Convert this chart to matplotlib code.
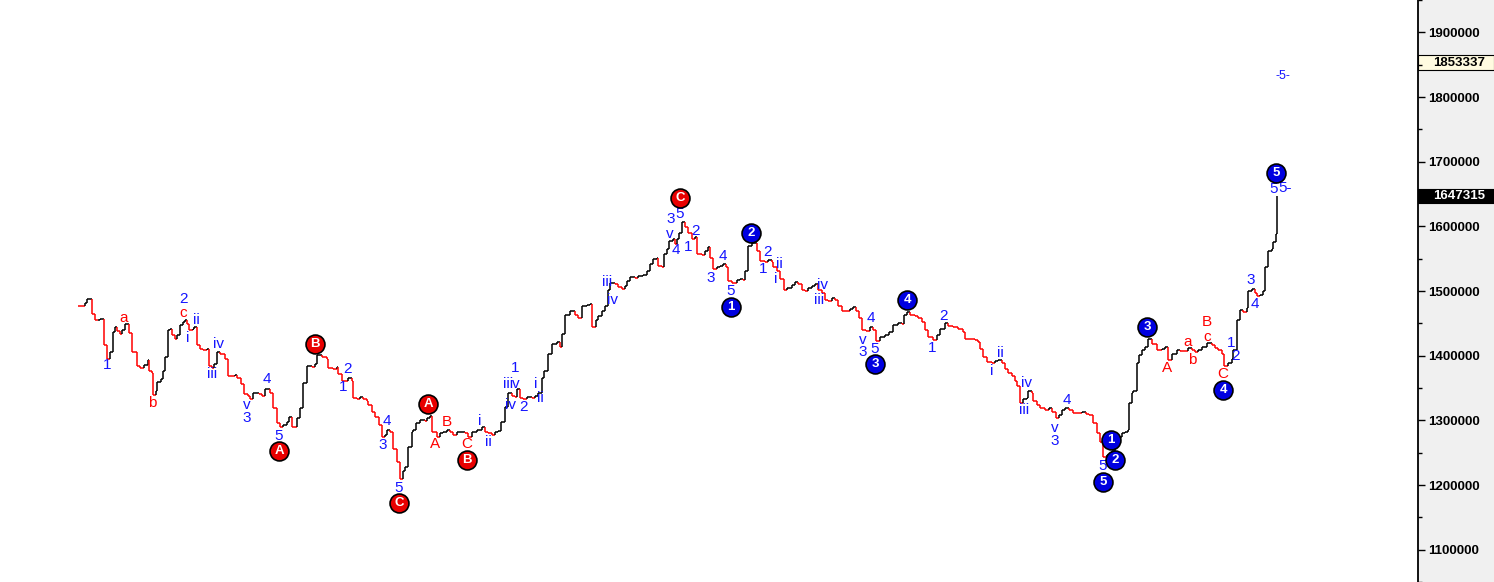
import numpy as np
import matplotlib.pyplot as plt
import matplotlib.transforms as mtransforms
from matplotlib.collections import LineCollection
from matplotlib.patches import Rectangle
from matplotlib.ticker import FuncFormatter

plt.rcParams['font.family'] = ['Liberation Sans', 'DejaVu Sans']

# bar positions (time axis) and close price in thousands
bar_x = [78, 85, 87, 92, 95, 98, 100, 104, 107, 110, 113, 115, 117, 120, 122, 125, 129, 132, 137, 140,
         144, 148, 149, 152, 153, 156, 157, 161, 163, 165, 168, 170, 172, 175, 177, 180, 183, 185, 187, 189,
         193, 194, 197, 200, 203, 207, 209, 212, 214, 217, 220, 225, 228, 235, 237, 241, 244, 248, 250, 253,
         259, 262, 265, 270, 273, 277, 280, 283, 287, 289, 292, 297, 300, 303, 307, 312, 315, 317, 322, 327,
         328, 333, 337, 338, 342, 348, 352, 353, 357, 360, 363, 367, 368, 372, 375, 379, 382, 385, 387, 390,
         393, 397, 400, 403, 405, 408, 412, 413, 416, 420, 425, 427, 430, 432, 437, 440, 443, 447, 450, 453,
         457, 465, 468, 472, 477, 482, 485, 488, 492, 495, 498, 501, 505, 508, 512, 515, 517, 520, 523, 527,
         532, 535, 538, 542, 544, 548, 552, 557, 560, 562, 565, 570, 575, 578, 582, 587, 590, 592, 596, 598,
         602, 605, 608, 610, 615, 618, 622, 625, 627, 630, 635, 638, 643, 647, 650, 653, 657, 658, 662, 664,
         667, 669, 673, 675, 677, 679, 682, 685, 688, 692, 695, 697, 702, 705, 708, 710, 713, 717, 720, 723,
         726, 728, 732, 737, 740, 743, 745, 748, 752, 757, 760, 765, 768, 772, 773, 777, 780, 784, 787, 792,
         795, 798, 802, 805, 808, 812, 815, 818, 822, 825, 828, 832, 835, 838, 842, 850, 853, 856, 859, 862,
         866, 870, 873, 876, 880, 885, 889, 893, 898, 902, 904, 907, 910, 915, 918, 922, 925, 928, 933, 937,
         940, 945, 948, 953, 958, 963, 965, 975, 978, 980, 983, 987, 992, 995, 998, 1002, 1005, 1008, 1012, 1015,
         1017, 1020, 1023, 1027, 1028, 1032, 1033, 1037, 1040, 1045, 1049, 1052, 1056, 1059, 1062, 1065, 1069, 1073, 1082, 1086,
         1089, 1093, 1097, 1100, 1103, 1107, 1112, 1115, 1118, 1122, 1125, 1128, 1129, 1132, 1133, 1137, 1139, 1142, 1145, 1148,
         1152, 1157, 1162, 1165, 1168, 1172, 1177, 1180, 1188, 1192, 1195, 1198, 1202, 1207, 1212, 1215, 1218, 1222, 1224, 1228,
         1232, 1233, 1237, 1240, 1243, 1247, 1248, 1252, 1255, 1257, 1260, 1263, 1265, 1268, 1272, 1273, 1276, 1277]

price_k = [1477.0, 1481.6, 1487.6, 1465.0, 1454.4, 1455.9, 1457.4, 1416.6, 1395.5, 1406.0,
           1436.2, 1443.8, 1437.8, 1433.2, 1439.3, 1448.3, 1434.7, 1406.0, 1383.4, 1380.4,
           1384.9, 1394.0, 1375.8, 1372.8, 1339.6, 1345.6, 1359.2, 1363.7, 1375.8, 1398.5,
           1439.3, 1440.8, 1431.7, 1425.7, 1431.7, 1446.8, 1451.3, 1455.9, 1448.3, 1439.3,
           1440.8, 1443.8, 1416.6, 1410.6, 1409.1, 1410.6, 1383.4, 1380.4, 1386.4, 1406.0,
           1403.0, 1395.5, 1368.3, 1369.8, 1365.3, 1356.2, 1341.1, 1338.1, 1333.5, 1342.6,
           1341.1, 1338.1, 1348.6, 1342.6, 1318.4, 1295.8, 1289.7, 1292.7, 1297.3, 1304.8,
           1289.7, 1303.3, 1318.4, 1357.7, 1383.4, 1381.9, 1386.4, 1401.5, 1398.5, 1395.5,
           1380.4, 1378.8, 1381.9, 1371.3, 1360.7, 1365.3, 1360.7, 1335.0, 1333.5, 1336.5,
           1333.5, 1330.5, 1323.0, 1312.4, 1304.8, 1292.7, 1274.6, 1277.6, 1285.2, 1282.2,
           1255.0, 1235.3, 1209.7, 1221.7, 1227.8, 1258.0, 1282.2, 1285.2, 1295.8, 1300.3,
           1298.8, 1303.3, 1306.3, 1282.2, 1274.6, 1280.7, 1282.2, 1285.2, 1282.2, 1277.6,
           1282.2, 1280.7, 1274.6, 1282.2, 1285.2, 1289.7, 1282.2, 1280.7, 1277.6, 1282.2,
           1283.7, 1297.3, 1319.9, 1342.6, 1338.1, 1336.5, 1348.6, 1335.0, 1333.5, 1336.5,
           1335.0, 1338.1, 1342.6, 1365.3, 1375.8, 1403.0, 1418.1, 1421.1, 1413.6, 1433.2,
           1463.4, 1469.5, 1463.4, 1458.9, 1477.0, 1478.5, 1480.1, 1443.8, 1454.4, 1461.9,
           1469.5, 1477.0, 1501.2, 1511.8, 1510.3, 1505.7, 1502.7, 1507.2, 1514.8, 1522.3,
           1520.8, 1523.9, 1525.4, 1531.4, 1542.0, 1549.5, 1551.1, 1539.0, 1537.5, 1557.1,
           1564.6, 1576.7, 1579.8, 1572.2, 1579.8, 1590.3, 1606.9, 1599.4, 1590.3, 1579.8,
           1582.8, 1557.1, 1555.6, 1561.6, 1567.7, 1551.1, 1534.4, 1537.5, 1539.0, 1542.0,
           1537.5, 1514.8, 1511.8, 1516.3, 1519.3, 1516.3, 1531.4, 1569.2, 1573.7, 1561.6,
           1546.5, 1545.0, 1548.0, 1545.0, 1537.5, 1531.4, 1519.3, 1501.2, 1504.2, 1508.8,
           1513.3, 1510.3, 1501.2, 1499.7, 1504.2, 1507.2, 1510.3, 1501.2, 1496.7, 1486.1,
           1484.6, 1489.1, 1486.1, 1477.0, 1469.5, 1472.5, 1475.5, 1469.5, 1458.9, 1439.3,
           1437.8, 1443.8, 1439.3, 1422.7, 1428.7, 1431.7, 1436.2, 1446.8, 1449.8, 1448.3,
           1463.4, 1468.0, 1463.4, 1461.9, 1458.9, 1451.3, 1439.3, 1428.7, 1424.2, 1431.7,
           1440.8, 1449.8, 1445.3, 1443.8, 1440.8, 1436.2, 1425.7, 1424.2, 1421.1, 1410.6,
           1398.5, 1390.9, 1387.9, 1392.4, 1394.0, 1387.9, 1378.8, 1372.8, 1368.3, 1360.7,
           1353.2, 1327.5, 1333.5, 1335.0, 1345.6, 1342.6, 1330.5, 1323.0, 1318.4, 1315.4,
           1318.4, 1312.4, 1303.3, 1307.8, 1315.4, 1318.4, 1315.4, 1310.9, 1312.4, 1309.3,
           1307.8, 1295.8, 1280.7, 1267.1, 1242.9, 1245.9, 1252.0, 1262.5, 1274.6, 1280.7,
           1282.2, 1285.2, 1327.5, 1342.6, 1345.6, 1387.9, 1401.5, 1409.1, 1413.6, 1425.7,
           1418.1, 1409.1, 1410.6, 1413.6, 1394.0, 1403.0, 1409.1, 1407.5, 1412.1, 1409.1,
           1406.0, 1409.1, 1413.6, 1419.6, 1416.6, 1412.1, 1409.1, 1403.0, 1383.4, 1387.9,
           1395.5, 1409.1, 1454.4, 1471.0, 1468.0, 1474.0, 1499.7, 1502.7, 1496.7, 1492.1,
           1493.7, 1499.7, 1537.5, 1561.6, 1564.6, 1575.2, 1588.8, 1647.315]

# wave labels: (text, bar, price in thousands)
blue_labels = [("1", 107, 1384.9), ("2", 183, 1487.6), ("ii", 196, 1454.4), ("i", 188, 1427.2),
               ("iv", 219, 1418.1), ("iii", 212, 1371.3), ("v", 247, 1323.0), ("3", 247, 1303.3),
               ("4", 267, 1363.7), ("5", 279, 1276.1), ("2", 347, 1378.8), ("1", 343, 1351.7),
               ("4", 387, 1298.8), ("3", 383, 1262.5), ("5", 399, 1196.1), ("i", 480, 1298.8),
               ("ii", 488, 1267.1), ("1", 515, 1380.4), ("iii", 508, 1356.2), ("v", 516, 1356.2),
               ("iv", 511, 1323.0), ("2", 523, 1319.9), ("i", 536, 1356.2), ("ii", 540, 1335.0),
               ("iii", 607, 1513.3), ("iv", 612, 1486.1), ("5", 680, 1619.0), ("3", 671, 1611.5),
               ("v", 670, 1588.8), ("4", 676, 1563.1), ("2", 695, 1593.3), ("1", 688, 1567.7),
               ("4", 723, 1554.1), ("3", 711, 1520.8), ("5", 731, 1499.7), ("2", 767, 1560.1),
               ("1", 763, 1534.4), ("ii", 779, 1542.0), ("i", 776, 1519.3), ("iv", 823, 1508.8),
               ("iii", 819, 1486.1), ("4", 871, 1458.9), ("v", 863, 1424.2), ("3", 863, 1406.0),
               ("5", 875, 1410.6), ("2", 943, 1461.9), ("1", 932, 1412.1), ("ii", 1000, 1404.5),
               ("i", 992, 1375.8), ("iv", 1027, 1357.7), ("iii", 1024, 1315.4), ("4", 1067, 1332.0),
               ("v", 1055, 1288.2), ("3", 1055, 1268.6), ("5", 1103, 1229.3), ("1", 1231, 1419.6),
               ("2", 1236, 1400.0), ("3", 1251, 1516.3), ("4", 1255, 1480.1), ("5", 1274, 1658.3),
               ("5-", 1285, 1659.8)]
red_labels = [("a", 124, 1458.9), ("b", 152, 1327.5), ("c", 183, 1466.5), ("B", 447, 1297.3),
              ("A", 435, 1264.0), ("C", 467, 1264.0), ("A", 1167, 1380.4), ("a", 1188, 1421.1),
              ("b", 1192, 1394.0), ("B", 1207, 1451.3), ("c", 1207, 1428.7), ("C", 1223, 1371.3)]
red_circles = [("A", 279, 1252.0), ("B", 315, 1418.1), ("C", 399, 1171.9), ("A", 428, 1324.5),
               ("B", 467, 1238.4), ("C", 680, 1643.2)]
blue_circles = [("1", 731, 1475.5), ("2", 751, 1590.3), ("3", 875, 1386.4), ("4", 907, 1486.1),
                ("5", 1103, 1205.1), ("1", 1111, 1270.1), ("2", 1115, 1238.4), ("3", 1147, 1443.8),
                ("4", 1223, 1347.1), ("5", 1276, 1682.5)]
target_label = ("-5-", 1283, 1832.0)

last_price = 1647315
marker_price = 1853337

BLUE = '#1414ff'
RED = '#ff0000'

fig = plt.figure(figsize=(14.94, 5.82), dpi=100)
fig.patch.set_facecolor('#f0f0f0')
ax = fig.add_axes([0, 0, 1418 / 1494, 1])
ax.set_facecolor('white')
ax.set_xlim(0, 1418)
ax.set_ylim(1063140, 1942300)

# step line, red on down bars, black on up bars
x = np.array(bar_x, dtype=float)
p = np.array(price_k) * 1000
segs = [[(x[0], p[0]), (x[1], p[0])]]
cols = [RED]
for i in range(1, len(x)):
    c = 'black' if p[i] >= p[i - 1] else RED
    segs.append([(x[i], p[i - 1]), (x[i], p[i])])
    cols.append(c)
    if i + 1 < len(x):
        segs.append([(x[i], p[i]), (x[i + 1], p[i])])
        cols.append(c)
ax.add_collection(LineCollection(segs, colors=cols, linewidths=1.1, capstyle='butt'))

for t, bx, v in blue_labels:
    ax.text(bx, v * 1000, t, color=BLUE, fontsize=11, ha='center', va='center')
for t, bx, v in red_labels:
    ax.text(bx, v * 1000, t, color=RED, fontsize=11, ha='center', va='center')
for lst, fc in [(red_circles, '#e80000'), (blue_circles, '#0000e0')]:
    for t, bx, v in lst:
        ax.scatter(bx, v * 1000, s=185, color=fc, edgecolors='black', linewidths=1.2, zorder=5)
        ax.text(bx, v * 1000, t, color='white', fontsize=9.5, fontweight='bold',
                ha='center', va='center', zorder=6)
ax.text(target_label[1], target_label[2] * 1000, target_label[0], color=BLUE, fontsize=9,
        ha='center', va='center')

# right price axis
for s in ['top', 'left', 'bottom']:
    ax.spines[s].set_visible(False)
ax.spines['right'].set_linewidth(1.3)
ax.set_xticks([])
ax.yaxis.tick_right()
ax.set_yticks(np.arange(1100000, 1900001, 100000))
ax.set_yticks(np.arange(1050000, 1950001, 50000), minor=True)
ax.yaxis.set_major_formatter(FuncFormatter(lambda v, pos: f"{int(round(v))}"))
ax.tick_params(axis='y', which='major', length=5, width=1, pad=2, labelsize=9.5)
ax.tick_params(axis='y', which='minor', length=3, width=1)
for lab in ax.get_yticklabels():
    lab.set_fontweight('bold')

trans = mtransforms.blended_transform_factory(fig.transFigure, ax.transData)
x0 = 1418 / 1494
h = 22000
ax.add_patch(Rectangle((x0, marker_price - h / 2), 1 - x0, h, transform=trans,
                       facecolor='#fffbe0', edgecolor='black', linewidth=0.8, clip_on=False))
ax.text(1485 / 1494, marker_price, f"{marker_price}", transform=trans, ha='right', va='center',
        fontsize=9.5, fontweight='bold', color='black')
ax.add_patch(Rectangle((x0, last_price - h / 2), 1 - x0, h, transform=trans,
                       facecolor='black', edgecolor='black', linewidth=0.8, clip_on=False))
ax.text(1485 / 1494, last_price, f"{last_price}", transform=trans, ha='right', va='center',
        fontsize=9.5, fontweight='bold', color='white')

fig.savefig('out.png', dpi=100, facecolor=fig.get_facecolor())
